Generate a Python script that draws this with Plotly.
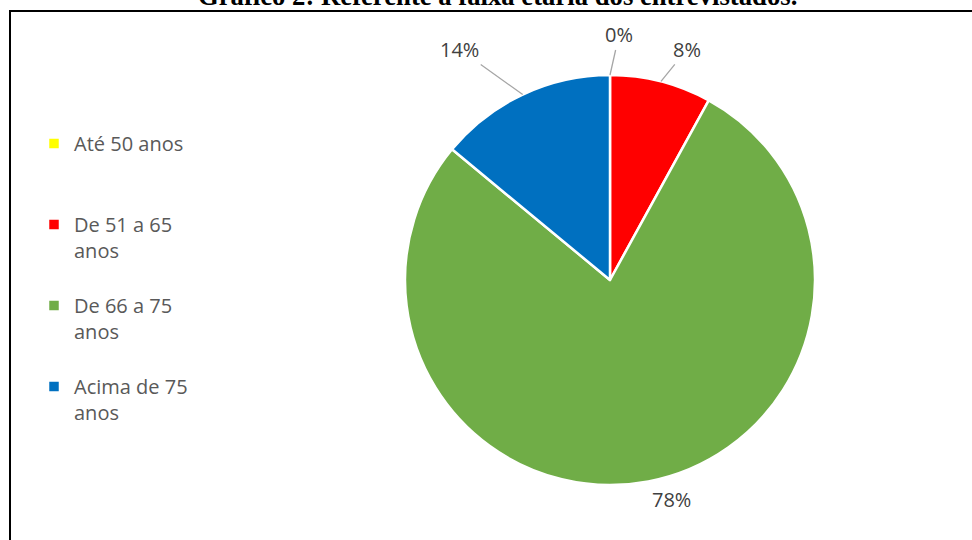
import math
import plotly.graph_objects as go

W, H = 972, 540

# Faixa etária dos entrevistados (percentual)
faixas = ["Até 50 anos", "De 51 a 65<br>anos", "De 66 a 75<br>anos", "Acima de 75<br>anos"]
percentuais = [0, 8, 78, 14]
rotulos = [f"{v}%" for v in percentuais]
cores = ["#FFFF00", "#FF0000", "#70AD47", "#0070C0"]

titulo = "Gráfico 2: Referente à faixa etária dos entrevistados."

# Pie geometry in pixels
CX, CY, R = 610, 280, 205

FONT = "Open Sans, sans-serif"

# Legend entries padded to three lines so every item takes the same height
nomes_legenda = []
for nome in faixas:
    n = nome.count("<br>") + 1
    nomes_legenda.append(nome + "<br> " * (3 - n))

fig = go.Figure()
fig.add_trace(go.Pie(
    labels=nomes_legenda,
    values=percentuais,
    marker=dict(colors=cores, line=dict(color="white", width=2.5)),
    sort=False,
    direction="clockwise",
    rotation=0,
    textinfo="none",
    hovertext=rotulos,
    domain=dict(x=[(CX - R) / W, (CX + R) / W],
                y=[(H - CY - R) / H, (H - CY + R) / H]),
    showlegend=True,
))

# Data labels placed around the slices (same order as the values), with leader lines
deslocamentos = [(9, -40), (26, -32), (23, 18), (-63, -45)]
com_linha = [True, True, False, True]
total = sum(percentuais)
acum = 0
for v, txt, (dx, dy), linha in zip(percentuais, rotulos, deslocamentos, com_linha):
    meio = (acum + v / 2) / total
    acum += v
    ang = 2 * math.pi * meio
    px = CX + R * math.sin(ang)
    py = CY - R * math.cos(ang)
    ann = dict(
        x=px / W, y=1 - py / H, xref="paper", yref="paper",
        text=txt, font=dict(family=FONT, size=20, color="#404040"),
    )
    if linha:
        ann.update(showarrow=True, ax=dx, ay=dy, arrowhead=0, arrowwidth=1.3,
                   arrowcolor="#A6A6A6", standoff=0, startstandoff=0)
    else:
        ann.update(showarrow=False, xanchor="center", yanchor="middle",
                   xshift=dx, yshift=-dy)
    fig.add_annotation(**ann)

# Title (partially above the top edge)
fig.add_annotation(
    x=497 / W, y=1 + 4 / H, xref="paper", yref="paper",
    xanchor="center", yanchor="middle", showarrow=False,
    text=f"<b>{titulo}</b>",
    font=dict(family="Times New Roman, Liberation Serif, serif", size=26.7, color="black"),
)

# Frame lines
fig.add_shape(type="line", xref="paper", yref="paper",
              x0=9 / W, x1=1.01, y0=1 - 11 / H, y1=1 - 11 / H,
              line=dict(color="black", width=2))
fig.add_shape(type="line", xref="paper", yref="paper",
              x0=10 / W, x1=10 / W, y0=1 - 11 / H, y1=-0.01,
              line=dict(color="black", width=2))

fig.update_layout(
    width=W, height=H,
    margin=dict(l=0, r=0, t=0, b=0),
    paper_bgcolor="white",
    plot_bgcolor="white",
    legend=dict(
        x=34 / W, y=1 - 124 / H, xanchor="left", yanchor="top",
        font=dict(family=FONT, size=20, color="#595959"),
        valign="top",
        bgcolor="rgba(0,0,0,0)",
        itemclick=False,
    ),
)

fig.write_html("out.html")
